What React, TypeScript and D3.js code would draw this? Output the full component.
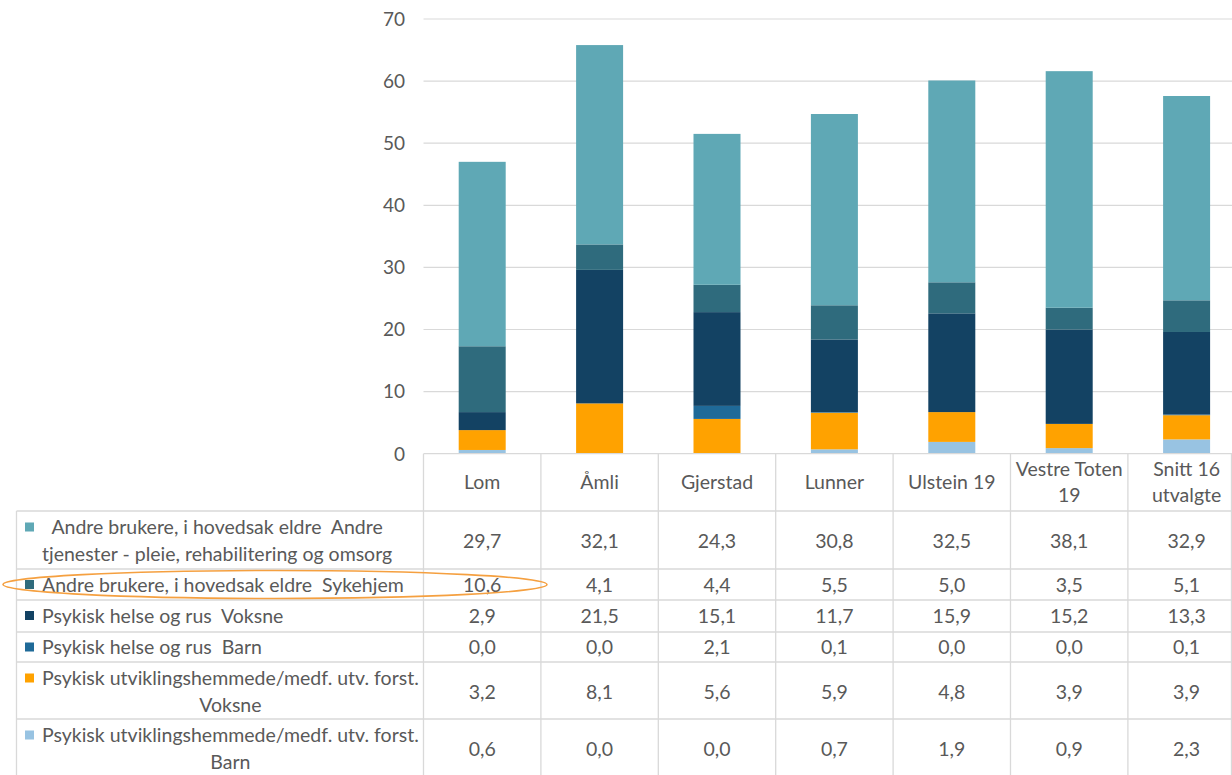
import React, { useEffect, useRef } from "react";
import * as d3 from "d3";

// Municipalities / columns
const categories = ["Lom", "Åmli", "Gjerstad", "Lunner", "Ulstein 19", "Vestre Toten 19", "Snitt 16 utvalgte"];
const categoryLines = [["Lom"], ["Åmli"], ["Gjerstad"], ["Lunner"], ["Ulstein 19"], ["Vestre Toten", "19"], ["Snitt 16", "utvalgte"]];

// Series (stack order bottom -> top)
const utvBarn = [0.6, 0.0, 0.0, 0.7, 1.9, 0.9, 2.3];
const utvVoksne = [3.2, 8.1, 5.6, 5.9, 4.8, 3.9, 3.9];
const psykBarn = [0.0, 0.0, 2.1, 0.1, 0.0, 0.0, 0.1];
const psykVoksne = [2.9, 21.5, 15.1, 11.7, 15.9, 15.2, 13.3];
const sykehjem = [10.6, 4.1, 4.4, 5.5, 5.0, 3.5, 5.1];
const andreTjenester = [29.7, 32.1, 24.3, 30.8, 32.5, 38.1, 32.9];

const seriesKeys = ["utvBarn", "utvVoksne", "psykBarn", "psykVoksne", "sykehjem", "andreTjenester"];
const seriesValues = [utvBarn, utvVoksne, psykBarn, psykVoksne, sykehjem, andreTjenester];
const seriesLabelLines = [
  ["Psykisk utviklingshemmede/medf. utv. forst.", "Barn"],
  ["Psykisk utviklingshemmede/medf. utv. forst.", "Voksne"],
  ["Psykisk helse og rus  Barn"],
  ["Psykisk helse og rus  Voksne"],
  ["Andre brukere, i hovedsak eldre  Sykehjem"],
  ["Andre brukere, i hovedsak eldre  Andre", "tjenester - pleie, rehabilitering og omsorg"],
];
const seriesColors = ["#98C3E2", "#FFA200", "#1F6A98", "#134263", "#2F6B7D", "#5FA8B5"];

const yTicks = [0, 10, 20, 30, 40, 50, 60, 70];

const W = 1232;
const H = 775;
const FONT = "Lato, 'Open Sans', sans-serif";
const TEXT = "#595959";
const GRID = "#D9D9D9";
const TABLE_FS = 19.5;

export default function App() {
  const ref = useRef<SVGSVGElement | null>(null);

  useEffect(() => {
    const svg = d3.select(ref.current);
    svg.selectAll("*").remove();

    const plotLeft = 423.5;
    const colW = 117.4;
    const x = d3
      .scaleBand<string>()
      .domain(categories)
      .range([plotLeft, plotLeft + colW * categories.length])
      .paddingInner(0)
      .paddingOuter(0);
    const y = d3.scaleLinear().domain([0, 70]).range([453.7, 19]);
    const barW = 47;

    // gridlines
    svg
      .append("g")
      .selectAll("line")
      .data(yTicks.filter((t) => t > 0))
      .join("line")
      .attr("x1", plotLeft)
      .attr("x2", W)
      .attr("y1", (d) => y(d))
      .attr("y2", (d) => y(d))
      .attr("stroke", GRID)
      .attr("stroke-width", 1.2);

    // y tick labels
    svg
      .append("g")
      .selectAll("text")
      .data(yTicks)
      .join("text")
      .attr("x", 405)
      .attr("y", (d) => y(d))
      .attr("dy", "0.36em")
      .attr("text-anchor", "end")
      .attr("font-family", FONT)
      .attr("font-size", 19)
      .attr("fill", TEXT)
      .text((d) => String(d));

    // stacked bars
    const rows = categories.map((c, i) => {
      const r: Record<string, any> = { category: c };
      seriesKeys.forEach((k, s) => (r[k] = seriesValues[s][i]));
      return r;
    });
    const stacked = d3.stack<any>().keys(seriesKeys)(rows);
    const gBars = svg.append("g");
    stacked.forEach((layer, s) => {
      gBars
        .append("g")
        .attr("fill", seriesColors[s])
        .selectAll("rect")
        .data(layer)
        .join("rect")
        .attr("x", (d: any) => (x(d.data.category) as number) + x.bandwidth() / 2 - barW / 2)
        .attr("width", barW)
        .attr("y", (d) => y(d[1]))
        .attr("height", (d) => Math.max(0, y(d[0]) - y(d[1])));
    });

    // data table
    const tableTop = y(0);
    const headerBottom = 511;
    const rowBounds = [511, 569, 600, 632, 662, 719, 790];
    const legendLeft = 16.5;
    const gT = svg.append("g");

    const hLine = (yy: number, x1: number) =>
      gT.append("line").attr("x1", x1).attr("x2", W).attr("y1", yy).attr("y2", yy).attr("stroke", GRID).attr("stroke-width", 1.3);
    hLine(tableTop, plotLeft);
    rowBounds.slice(0, -1).forEach((b) => hLine(b, legendLeft));

    // vertical lines
    const vx = d3.range(categories.length + 1).map((i) => plotLeft + i * colW);
    vx.forEach((xx) => {
      gT.append("line").attr("x1", xx).attr("x2", xx).attr("y1", tableTop).attr("y2", H).attr("stroke", GRID).attr("stroke-width", 1.3);
    });
    gT.append("line").attr("x1", legendLeft).attr("x2", legendLeft).attr("y1", headerBottom).attr("y2", H).attr("stroke", GRID).attr("stroke-width", 1.3);
    gT.append("line").attr("x1", W - 0.5).attr("x2", W - 0.5).attr("y1", tableTop).attr("y2", H).attr("stroke", GRID).attr("stroke-width", 1.3);

    const txt = (g: any, xx: number, yy: number, s: string, anchor = "middle") =>
      g
        .append("text")
        .attr("x", xx)
        .attr("y", yy)
        .attr("dy", "0.36em")
        .attr("text-anchor", anchor)
        .attr("font-family", FONT)
        .attr("font-size", TABLE_FS)
        .attr("fill", TEXT)
        .style("white-space", "pre")
        .text(s);

    // header labels
    categories.forEach((c, i) => {
      const cx = (x(c) as number) + x.bandwidth() / 2;
      const lines = categoryLines[i];
      const mid = (tableTop + headerBottom) / 2;
      lines.forEach((l, k) => {
        const yy = mid + (k - (lines.length - 1) / 2) * 26;
        txt(gT, cx, yy, l);
      });
    });

    // table body: top series first
    const order = d3.range(seriesKeys.length).reverse();
    const fmt = (v: number) => d3.format(".1f")(v).replace(".", ",");
    order.forEach((s, r) => {
      const top = rowBounds[r];
      const bottom = Math.min(rowBounds[r + 1], H + 40);
      const lines = seriesLabelLines[s];
      const textLeft = 42;
      const lineGap = 27;
      const firstY = lines.length === 1 ? (top + Math.min(bottom, top + 31)) / 2 : top + 16;

      // legend key
      gT.append("rect")
        .attr("x", 25)
        .attr("y", firstY - 4.5)
        .attr("width", 9)
        .attr("height", 9)
        .attr("fill", seriesColors[s]);

      if (lines.length === 1) {
        txt(gT, textLeft, firstY, lines[0], "start");
      } else {
        const nodes = lines.map((l, k) => txt(gT, 0, firstY + k * lineGap, l, "middle"));
        const maxW = d3.max(nodes, (n: any) => (n.node() as SVGTextElement).getComputedTextLength()) || 0;
        nodes.forEach((n: any) => n.attr("x", textLeft + maxW / 2));
      }

      // values
      const rowMid = lines.length === 1 ? firstY : firstY + lineGap / 2;
      seriesValues[s].forEach((v, i) => {
        const cx = (x(categories[i]) as number) + x.bandwidth() / 2;
        txt(gT, cx, rowMid, fmt(v));
      });
    });

    // highlight ring around the Sykehjem row
    const skRow = order.indexOf(seriesKeys.indexOf("sykehjem"));
    const skMid = (rowBounds[skRow] + rowBounds[skRow + 1]) / 2;
    svg
      .append("ellipse")
      .attr("cx", 275)
      .attr("cy", skMid)
      .attr("rx", 272)
      .attr("ry", 14)
      .attr("fill", "none")
      .attr("stroke", "#F5A040")
      .attr("stroke-width", 1.6);
  }, []);

  return (
    <div style={{ position: "absolute", left: 0, top: 0 }}>
      <svg ref={ref} width={W} height={H} style={{ display: "block", background: "#fff" }} />
    </div>
  );
}
